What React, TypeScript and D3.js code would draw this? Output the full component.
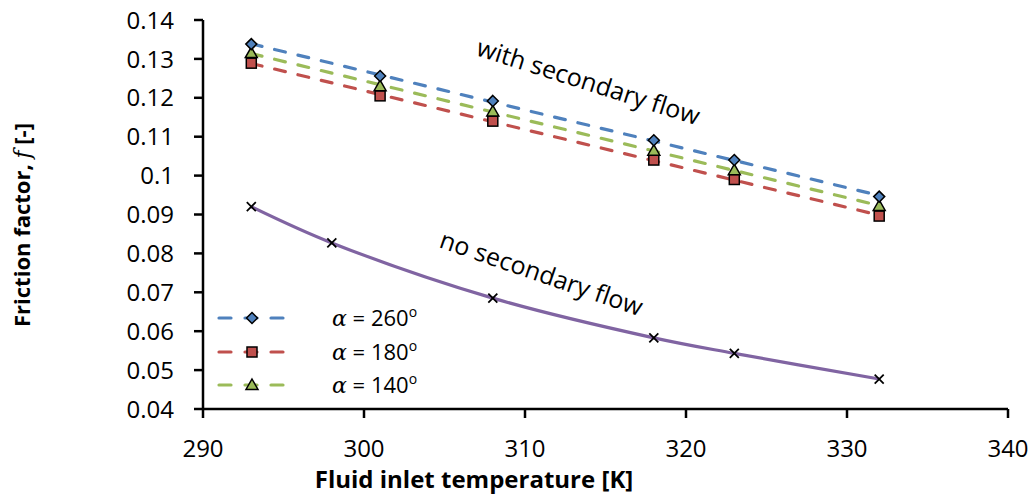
import React from "react";
import * as d3 from "d3";

const temps = [293, 301, 308, 318, 323, 332];
const f260 = [0.1338, 0.1256, 0.1192, 0.1091, 0.104, 0.0946];
const f180 = [0.1289, 0.1205, 0.114, 0.104, 0.099, 0.0896];
const f140 = [0.1315, 0.123, 0.1165, 0.1064, 0.1014, 0.0922];
const tempsNoSec = [293, 298, 308, 318, 323, 332];
const fNoSec = [0.092, 0.0827, 0.0685, 0.0583, 0.0543, 0.0477];
const xTicks = [290, 300, 310, 320, 330, 340];
const yTicks = [0.04, 0.05, 0.06, 0.07, 0.08, 0.09, 0.1, 0.11, 0.12, 0.13, 0.14];
const legendLabels = ["260", "180", "140"];

const W = 1035;
const H = 499;
const FONT = "'Open Sans', sans-serif";

const x = d3.scaleLinear().domain([290, 340]).range([203, 1008]);
const y = d3.scaleLinear().domain([0.04, 0.14]).range([409, 20]);

function regress(xs: number[], ys: number[]) {
  const mx = d3.mean(xs)!;
  const my = d3.mean(ys)!;
  let num = 0;
  let den = 0;
  xs.forEach((v, i) => {
    num += (v - mx) * (ys[i] - my);
    den += (v - mx) * (v - mx);
  });
  const b = num / den;
  const a = my - b * mx;
  return (t: number) => a + b * t;
}

const series = [
  { vals: f260, color: "#4F81BD", marker: "diamond" },
  { vals: f180, color: "#C0504D", marker: "square" },
  { vals: f140, color: "#9BBB59", marker: "triangle" },
];

function Marker({ type, cx, cy, color }: { type: string; cx: number; cy: number; color: string }) {
  if (type === "diamond") {
    const r = 5.5;
    return (
      <path
        d={`M${cx},${cy - r}L${cx + r},${cy}L${cx},${cy + r}L${cx - r},${cy}Z`}
        fill={color}
        stroke="#000"
        strokeWidth={1.5}
      />
    );
  }
  if (type === "square") {
    const s = 10;
    return <rect x={cx - s / 2} y={cy - s / 2} width={s} height={s} fill={color} stroke="#000" strokeWidth={1.5} />;
  }
  const r = 6;
  return (
    <path
      d={`M${cx},${cy - r}L${cx + r},${cy + r * 0.75}L${cx - r},${cy + r * 0.75}Z`}
      fill={color}
      stroke="#000"
      strokeWidth={1.5}
    />
  );
}

export default function App() {
  const lineSmooth = d3
    .line<number>()
    .x((_, i) => x(tempsNoSec[i]))
    .y((d) => y(d))
    .curve(d3.curveCatmullRom.alpha(0.5));

  const t0 = d3.min(temps)!;
  const t1 = d3.max(temps)!;

  return (
    <svg width={W} height={H} style={{ position: "absolute", left: 0, top: 0, background: "#fff" }} fontFamily={FONT}>
      {/* trend lines */}
      {series.map((s, k) => {
        const fn = regress(temps, s.vals);
        return (
          <line
            key={"t" + k}
            x1={x(t0)}
            y1={y(fn(t0))}
            x2={x(t1)}
            y2={y(fn(t1))}
            stroke={s.color}
            strokeWidth={3.2}
            strokeDasharray="11,13"
            strokeLinecap="round"
          />
        );
      })}
      {/* no secondary flow */}
      <path d={lineSmooth(fNoSec) || ""} fill="none" stroke="#8064A2" strokeWidth={3.2} />
      {fNoSec.map((v, i) => {
        const cx = x(tempsNoSec[i]);
        const cy = y(v);
        const r = 4.5;
        return (
          <g key={"x" + i} stroke="#000" strokeWidth={1.8}>
            <line x1={cx - r} y1={cy - r} x2={cx + r} y2={cy + r} />
            <line x1={cx - r} y1={cy + r} x2={cx + r} y2={cy - r} />
          </g>
        );
      })}
      {/* markers */}
      {[1, 2, 0].map((k) =>
        series[k].vals.map((v, i) => (
          <Marker key={"m" + k + i} type={series[k].marker} cx={x(temps[i])} cy={y(v)} color={series[k].color} />
        ))
      )}

      {/* axes */}
      <line x1={203} y1={y(0.14)} x2={203} y2={409} stroke="#000" strokeWidth={2.5} />
      <line x1={203} y1={409} x2={x(340)} y2={409} stroke="#000" strokeWidth={2.5} />
      {yTicks.map((t) => (
        <g key={"yt" + t}>
          <line x1={194} x2={203} y1={y(t)} y2={y(t)} stroke="#000" strokeWidth={2.5} />
          <text x={174} y={y(t)} dy="0.36em" textAnchor="end" fontSize={24} fill="#000">
            {d3.format("")(+t.toFixed(2))}
          </text>
        </g>
      ))}
      {xTicks.map((t) => (
        <g key={"xt" + t}>
          <line x1={x(t)} x2={x(t)} y1={409} y2={418} stroke="#000" strokeWidth={2.5} />
          <text x={x(t)} y={457} textAnchor="middle" fontSize={24} fill="#000">
            {t}
          </text>
        </g>
      ))}

      {/* axis titles */}
      <text x={474} y={488} textAnchor="middle" fontSize={24} fontWeight="bold" fill="#000">
        Fluid inlet temperature [K]
      </text>
      <text transform="translate(30,225) rotate(-90)" textAnchor="middle" fontSize={22} fontWeight="bold" fill="#000">
        Friction factor,{" "}
        <tspan fontFamily="'DejaVu Serif', serif" fontStyle="italic" fontWeight="normal">
          f
        </tspan>{" "}
        [-]
      </text>

      {/* annotations */}
      <text transform="translate(475,55) rotate(17.6)" fontSize={25} fill="#000">
        with secondary flow
      </text>
      <text transform="translate(438,247) rotate(19)" fontSize={25} fill="#000">
        no secondary flow
      </text>

      {/* legend */}
      {series.map((s, k) => {
        const ly = [318, 352, 385][k];
        return (
          <g key={"lg" + k}>
            <line x1={219} x2={285} y1={ly} y2={ly} stroke={s.color} strokeWidth={3.2} strokeDasharray="12,14" strokeLinecap="round" />
            <Marker type={s.marker} cx={252} cy={ly} color={s.color} />
            <text x={332} y={ly} dy="0.36em" fontSize={22} fill="#000">
              <tspan fontFamily="'DejaVu Serif', serif" fontStyle="italic">α</tspan> = {legendLabels[k]}
              <tspan fontSize={14} dy={-9}>o</tspan>
            </text>
          </g>
        );
      })}
    </svg>
  );
}
